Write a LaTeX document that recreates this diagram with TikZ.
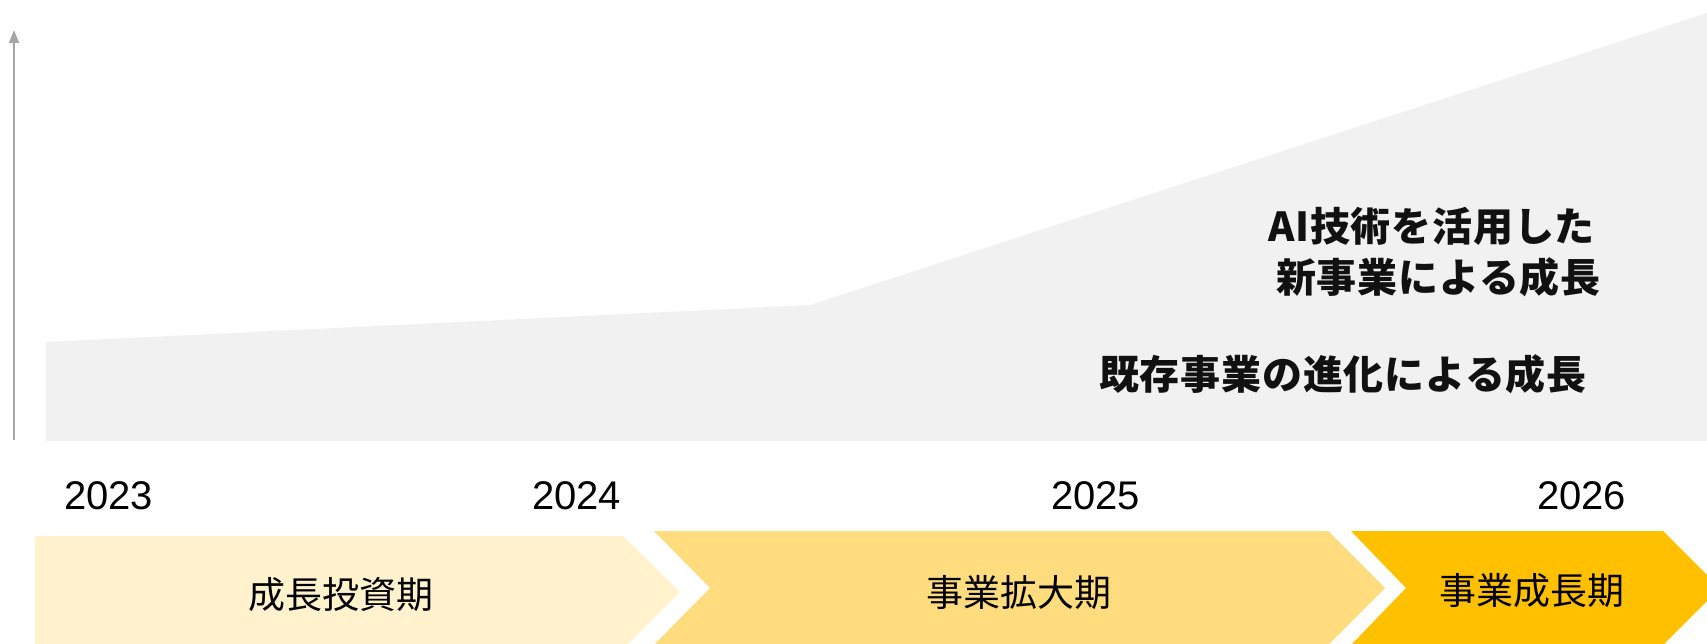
\documentclass[tikz,border=0pt]{standalone}
\usepackage{fontspec}
\setmainfont{Liberation Sans}
\newfontfamily\jpfont{Noto Sans CJK JP}
\newfontfamily\jpboldls{Noto Sans CJK JP}[LetterSpace=2]
\usetikzlibrary{arrows.meta}
\definecolor{areagray}{HTML}{F1F1F1}
\definecolor{axisgray}{HTML}{A6A6A6}
\definecolor{phaseA}{HTML}{FFF2CC}
\definecolor{phaseB}{HTML}{FFDC7E}
\definecolor{phaseC}{HTML}{FFC000}
\definecolor{txt}{HTML}{111111}
\tikzset{
  axisline/.style={draw=axisgray, line width=2pt, -{Triangle[length=13pt,width=10pt]}},
  yearlbl/.style={inner sep=0pt, font=\fontsize{40}{46}\selectfont, text=black, anchor=base},
  phaselbl/.style={inner sep=0pt, font=\jpfont\fontsize{37}{44}\selectfont, text=black},
  growthlbl/.style={inner sep=0pt, font=\jpboldls\bfseries\fontsize{40}{48}\selectfont, text=txt, anchor=west},
}
\begin{document}
\begin{tikzpicture}[x=1pt,y=-1pt]
\useasboundingbox (0,0) rectangle (1707,644);
\clip (0,0) rectangle (1707,644);
% growth area
\fill[areagray] (46,342) -- (810,305) -- (1707,13) -- (1707,441) -- (46,441) -- cycle;
% axis
\coordinate (axb) at (14,440);
\coordinate (axt) at (14,30);
\draw[axisline] (axb) -- (axt);
% chevrons
\fill[phaseA] (35,536) -- (623,536) -- (680,592) -- (624,648) -- (35,648) -- cycle;
\fill[phaseB] (654,531) -- (1328,531) -- (1385,588) -- (1328,645) -- (654,645) -- (710,588) -- cycle;
\fill[phaseC] (1351,531) -- (1663,531) -- (1720,588) -- (1663,645) -- (1351,645) -- (1406,588) -- cycle;
% years
\node[yearlbl] (y23) at (108.5,509) {2023};
\node[yearlbl] (y24) at (576.5,509) {2024};
\node[yearlbl] (y25) at (1095.5,509) {2025};
\node[yearlbl] (y26) at (1581.5,509) {2026};
% phase labels
\node[phaselbl] (p1) at (341,595) {成長投資期};
\node[phaselbl] (p2) at (1019,592.5) {事業拡大期};
\node[phaselbl] (p3) at (1532,591) {事業成長期};
% growth labels
\node[growthlbl] (g1) at (1268,226) {AI技術を活用した};
\node[growthlbl] (g2) at (1276,277) {新事業による成長};
\node[growthlbl] (g3) at (1099,374) {既存事業の進化による成長};
\end{tikzpicture}
\end{document}
